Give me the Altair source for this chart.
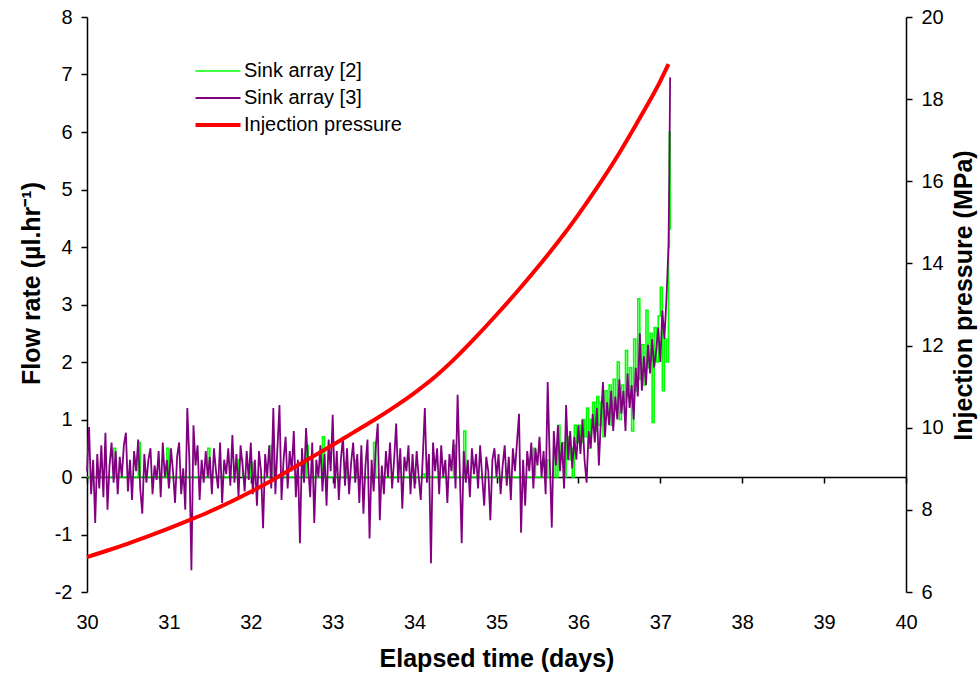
import altair as alt
import pandas as pd

# ---------------- data ----------------
SERIES = ["Sink array [2]", "Sink array [3]", "Injection pressure"]
START_DAY = 30.0
STEP_DAY = 0.025

# Sink array [3] (purple) flow rate, one value every 0.025 day from day 30.0
sink3_d30 = [0.1, 0.87, -0.3, 0.3, -0.8, 0.4, -0.2, 0.55, -0.35, 0.77,
             -0.57, 0.2, 0.6, -0.1, 0.45, -0.3, 0.35, 0.0, 0.55, 0.77,
             -0.25, 0.3, -0.4, 0.45, 0.1, 0.65, -0.2, -0.64, 0.4, -0.1,
             0.3, 0.5, -0.3, 0.2, -0.05, 0.45, -0.35, 0.6, 0.0, 0.3]
sink3_d31 = [-0.2, 0.5, 0.1, -0.45, 0.35, 0.6, -0.3, 0.15, -0.57, 1.2,
             0.3, -1.62, 0.9, 0.2, 0.55, -0.4, 0.3, -0.1, 0.45, 0.0,
             0.35, -0.3, 0.5, 0.1, -0.2, 0.6, -0.45, 0.3, 0.05, 0.5,
             -0.15, 0.73, -0.1, 0.4, -0.35, 0.55, 0.2, -0.25, 0.45, -0.05]
sink3_d32 = [0.6, -0.3, 0.3, -0.5, 0.45, 0.1, -0.89, 0.4, 0.0, 0.55,
             -0.2, 1.2, -0.3, 0.5, 1.25, -0.4, 0.3, 0.7, -0.2, 0.45,
             0.1, 0.8, -0.35, 0.3, -1.15, 0.5, -0.1, 0.85, 0.2, -0.35,
             0.6, -0.8, 0.3, 0.0, 0.55, -0.25, 0.4, -0.5, 0.65, 0.1]
sink3_d33 = [1.08, -0.2, 0.45, -0.4, 0.3, 0.7, -0.15, 0.5, -0.3, 0.25,
             0.6, -0.1, 0.4, -0.45, 0.55, -0.64, 0.2, 0.65, -1.07, 0.3,
             -0.25, 0.5, 0.93, -0.75, 0.2, -0.3, 0.45, 0.0, 0.6, -0.2,
             0.3, 0.93, -0.1, 0.5, -0.55, 0.35, 0.1, 0.55, -0.3, 0.4]
sink3_d34 = [-0.2, 0.45, 0.0, -0.4, 0.35, 1.2, -0.1, 0.4, -1.5, 0.6,
             0.1, 0.5, -0.3, 0.55, 0.0, 0.3, -0.45, 0.4, 0.1, 0.65,
             -0.2, 1.43, 0.2, -1.15, 0.45, -0.1, 0.3, -0.35, 0.5, 0.05,
             0.4, -0.2, 0.55, 0.0, -0.5, 0.35, 0.1, -0.75, 0.3, 0.5]
sink3_d35 = [0.0, 0.4, -0.3, 0.2, 0.55, -0.15, 0.35, -0.4, 0.5, 0.1,
             0.6, 1.1, -0.97, 0.3, -0.5, 0.45, 0.1, 0.6, -0.2, 0.5,
             0.2, 0.7, 0.0, 0.45, -0.3, 1.65, 0.3, -0.88, 0.8, 0.2,
             0.9, 0.1, 0.6, -0.2, 1.25, 0.3, 0.8, 0.15, 0.7, 0.3]
sink3_d36 = [0.9, 0.4, 1.0, 0.3, -0.1, 0.8, 0.5, 1.1, 0.6, 1.2,
             0.2, 1.0, 1.65, 0.7, 1.3, 0.9, 1.5, 0.8, 1.4, 1.0,
             1.7, 1.1, 1.5, 0.8, 1.8, 1.2, 1.6, 1.0, 1.9, 1.4,
             2.5, 1.5, 2.1, 1.6, 2.3, 1.8, 2.4, 1.9, 2.2, 2.6]
sink3_d37 = [2.0, 2.9, 2.4, 3.1]

# Sink array [2] (green) flow rate, same time grid (stepped record)
sink2_d30 = [0, 0, 0, 0, 0, 0, 0, 0, 0, 0,
             0, 0, 0, 0.5, 0, 0, 0, 0, 0, 0,
             0, 0, 0, 0, 0, 0.6, 0, 0, 0, 0,
             0, 0, 0, 0, 0, 0, 0, 0, 0, 0.5]
sink2_d31 = [0, 0, 0, 0, 0, 0, 0, 0, 0, 0,
             0, 0, 0, 0, 0, 0, 0, 0, 0, 0.5,
             0, 0, 0, 0, 0, 0, 0, 0, 0, 0,
             0, 0, 0, 0, 0.3, 0.3, 0, 0, 0, 0]
sink2_d32 = [0.25, 0, 0, 0, 0, 0, 0, 0, 0, 0,
             0.55, 0, 0, 0, 0, 0, 0, 0, 0, 0,
             0, 0, 0, 0, 0, 0, 0, 0.55, 0, 0,
             0, 0, 0, 0, 0, 0.7, 0, 0, 0, 0]
sink2_d33 = [0, 0, 0, 0, 0, 0, 0.25, 0, 0, 0,
             0, 0.3, 0, 0, 0, 0, 0, 0, 0, 0,
             0.6, 0, 0, 0, 0, 0, 0, 0, 0, 0,
             0, 0, 0, 0, 0, 0, 0, 0, 0, 0]
sink2_d34 = [0, 0, 0, 0, 0.05, 0, 0, 0, 0, 0,
             0, 0, 0, 0, 0, 0, 0, 0, 0, 0.55,
             0, 0, 0, 0, 0.8, 0, 0, 0, 0, 0,
             0, 0, 0, 0, 0, 0, 0, 0, 0, 0]
sink2_d35 = [0, 0, 0, 0, 0, 0, 0, 0, 0, 0,
             0, 0, 0, 0, 0, 0, 0, 0, 0.5, 0,
             0, 0, 0, 0, 0.3, 0, 0, 0, 0.5, 0,
             0.9, 0.4, 0.6, 0, 0.7, 0.3, 0.5, 0, 0.9, 0.6]
sink2_d36 = [0.9, 0.6, 1.0, 0.7, 1.2, 0.5, 1.0, 1.3, 0.8, 1.4,
             0.9, 1.3, 0.7, 1.5, 1.1, 1.6, 0.9, 1.7, 1.2, 2.0,
             1.0, 1.6, 1.3, 2.2, 1.4, 1.9, 0.8, 2.4, 1.5, 3.1,
             1.7, 2.3, 1.6, 2.9, 1.9, 2.5, 0.95, 2.6, 2.0, 2.8]
sink2_d37 = [3.3, 1.5, 2.4, 2.0]

# final rapid rise
tail_days = [37.1, 37.11, 37.12]
sink3_tail = [4.0, 5.2, 6.95]
sink2_tail = [4.0, 6.0, 4.3]

# injection pressure (MPa)
pressure_days = [30.0, 30.25, 30.5, 30.75, 31.0, 31.25, 31.5, 31.75, 32.0, 32.25,
                 32.5, 32.75, 33.0, 33.25, 33.5, 33.75, 34.0, 34.25, 34.5, 34.75,
                 35.0, 35.25, 35.5, 35.75, 36.0, 36.25, 36.5, 36.75, 37.0, 37.1]
pressure_mpa = [6.85, 7.01, 7.18, 7.36, 7.55, 7.75, 7.96, 8.19, 8.44, 8.71,
                9.0, 9.29, 9.58, 9.88, 10.18, 10.5, 10.85, 11.24, 11.7, 12.21,
                12.75, 13.31, 13.9, 14.52, 15.19, 15.91, 16.69, 17.54, 18.44, 18.85]

x_ticks = list(range(30, 41))
left_ticks = list(range(-2, 9))
right_ticks = list(range(6, 21, 2))

# ---------------- build tables ----------------
sink3 = sink3_d30 + sink3_d31 + sink3_d32 + sink3_d33 + sink3_d34 + sink3_d35 + sink3_d36 + sink3_d37
sink2 = sink2_d30 + sink2_d31 + sink2_d32 + sink2_d33 + sink2_d34 + sink2_d35 + sink2_d36 + sink2_d37
grid_days = [round(START_DAY + STEP_DAY * i, 4) for i in range(len(sink3))]

flow_df = pd.concat([
    pd.DataFrame({"day": grid_days + tail_days, "flow": sink2 + sink2_tail, "series": SERIES[0]}),
    pd.DataFrame({"day": grid_days + tail_days, "flow": sink3 + sink3_tail, "series": SERIES[1]}),
], ignore_index=True)
pres_df = pd.DataFrame({"day": pressure_days, "mpa": pressure_mpa, "series": SERIES[2]})

FONT = "Liberation Sans"
x_scale = alt.Scale(domain=[30, 40], nice=False)
left_scale = alt.Scale(domain=[-2, 8], nice=False)
right_scale = alt.Scale(domain=[6, 20], nice=False)
color_scale = alt.Scale(domain=SERIES, range=["#00ff00", "#800080", "#ff0000"])
width_scale = alt.Scale(type="ordinal", domain=SERIES, range=[1.6, 1.8, 4.0])

legend = alt.Legend(title=None, orient="none", legendX=121, legendY=44,
                    symbolType="M-3,0H3", symbolSize=225, labelFontSize=20,
                    labelFont=FONT, labelColor="black", rowPadding=7, labelOffset=16)

color_enc = alt.Color("series:N", scale=color_scale, legend=legend)
width_enc = alt.StrokeWidth("series:N", scale=width_scale, legend=legend)

x_labels = alt.X("day:Q", scale=x_scale,
                 axis=alt.Axis(title="Elapsed time (days)", values=x_ticks, format="d",
                               domain=False, ticks=False, grid=False, orient="bottom",
                               labelFlush=False, labelPadding=20, titlePadding=14))
x_zero = alt.X("day:Q", scale=x_scale,
               axis=alt.Axis(title=None, values=x_ticks, labels=False, grid=False,
                             domain=True, ticks=True, tickSize=6, orient="bottom",
                             offset=-115))
x_none = alt.X("day:Q", scale=x_scale, axis=None)

y_left = alt.Y("flow:Q", scale=left_scale,
               axis=alt.Axis(title="Flow rate (µl.hr⁻¹)", orient="left", values=left_ticks,
                             labelExpr="datum.value + ''",
                             grid=False, tickSize=6, labelPadding=9, titlePadding=10,
                             titleY=266))
y_left_none = alt.Y("flow:Q", scale=left_scale, axis=None)
y_right = alt.Y("mpa:Q", scale=right_scale,
                axis=alt.Axis(title="Injection pressure (MPa)", orient="right", values=right_ticks,
                              grid=False, tickSize=6, labelPadding=9, titlePadding=8,
                              titleAngle=270, titleBaseline="top", titleY=278))

green = alt.Chart(flow_df).transform_filter(alt.datum.series == SERIES[0]).mark_line(
    interpolate="step-after", strokeWidth=1.6).encode(
    x=x_labels, y=y_left, color=color_enc, strokeWidth=width_enc)
purple = alt.Chart(flow_df).transform_filter(alt.datum.series == SERIES[1]).mark_line(
    strokeWidth=1.8).encode(x=x_none, y=y_left_none, color=color_enc, strokeWidth=width_enc)
red = alt.Chart(pres_df).mark_line(strokeWidth=4, interpolate="monotone").encode(
    x=x_zero, y=y_right, color=color_enc, strokeWidth=width_enc)

chart = alt.layer(green, purple, red).resolve_scale(
    y="independent").resolve_axis(x="independent", y="independent").properties(
    width=819, height=575,
    autosize=alt.AutoSizeParams(type="none"),
    padding={"left": 87, "top": 17, "right": 74, "bottom": 87},
    background="white",
).configure_view(stroke=None).configure_axis(
    labelFont=FONT, labelFontSize=20, labelColor="black",
    titleFont=FONT, titleFontSize=25, titleFontWeight="bold", titleColor="black",
    domainColor="black", tickColor="black", domainWidth=1.5, tickWidth=1.5,
)

chart.save("out.html", embed_options={"renderer": "svg", "actions": False})
